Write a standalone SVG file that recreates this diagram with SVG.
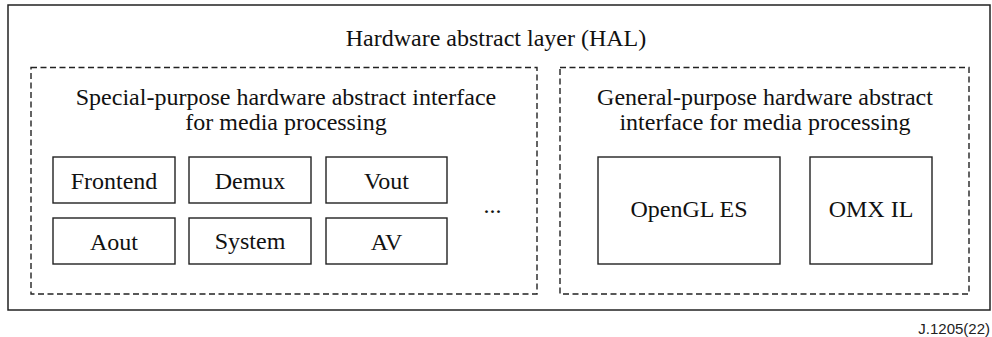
<svg xmlns="http://www.w3.org/2000/svg" width="992" height="337" viewBox="0 0 992 337">
<style>
.t{font-family:'Liberation Serif','Times New Roman',Times,'DejaVu Serif',serif;font-size:24px;fill:#111;text-anchor:middle}
.box{fill:#fff;stroke:#222;stroke-width:1.4}
.dash{fill:none;stroke:#222;stroke-width:1.4;stroke-dasharray:6 3.5}
.f{font-family:'Liberation Sans',Arial,sans-serif;font-size:15px;fill:#222;text-anchor:end}
</style>
<rect width="992" height="337" fill="#fff"/>
<g id="hal">
<rect x="8" y="5" width="982" height="305" fill="none" stroke="#222" stroke-width="1.5"/>
<text class="t" font-family="Liberation Serif, serif" x="496" y="46">Hardware abstract layer (HAL)</text>
</g>
<g id="special">
<rect class="dash" x="31" y="67.5" width="506" height="226.5"/>
<text class="t" x="286" y="105">Special-purpose hardware abstract interface</text>
<text class="t" x="286" y="130">for media processing</text>
</g>
<g id="general">
<rect class="dash" x="560" y="67.5" width="409" height="226.5"/>
<text class="t" x="765" y="105">General-purpose hardware abstract</text>
<text class="t" x="765" y="130">interface for media processing</text>
</g>
<g id="frontend"><rect class="box" x="53" y="157" width="122" height="46"/><text class="t" x="114" y="189">Frontend</text></g>
<g id="demux"><rect class="box" x="189" y="157" width="122" height="46"/><text class="t" x="250" y="189">Demux</text></g>
<g id="vout"><rect class="box" x="326" y="157" width="121" height="46"/><text class="t" x="386.5" y="189">Vout</text></g>
<g id="aout"><rect class="box" x="53" y="218" width="122" height="46"/><text class="t" x="114" y="250">Aout</text></g>
<g id="system"><rect class="box" x="189" y="218" width="122" height="46"/><text class="t" x="250" y="249">System</text></g>
<g id="av"><rect class="box" x="326" y="218" width="121" height="46"/><text class="t" x="386.5" y="250">AV</text></g>
<g id="more"><text class="t" x="492.5" y="213">...</text></g>
<g id="opengl"><rect class="box" x="598" y="157" width="182" height="107"/><text class="t" x="689" y="217">OpenGL ES</text></g>
<g id="omx"><rect class="box" x="810" y="157" width="122" height="107"/><text class="t" x="871" y="217">OMX IL</text></g>
<g id="connectors"></g>
<text class="f" x="990" y="334">J.1205(22)</text>
</svg>
